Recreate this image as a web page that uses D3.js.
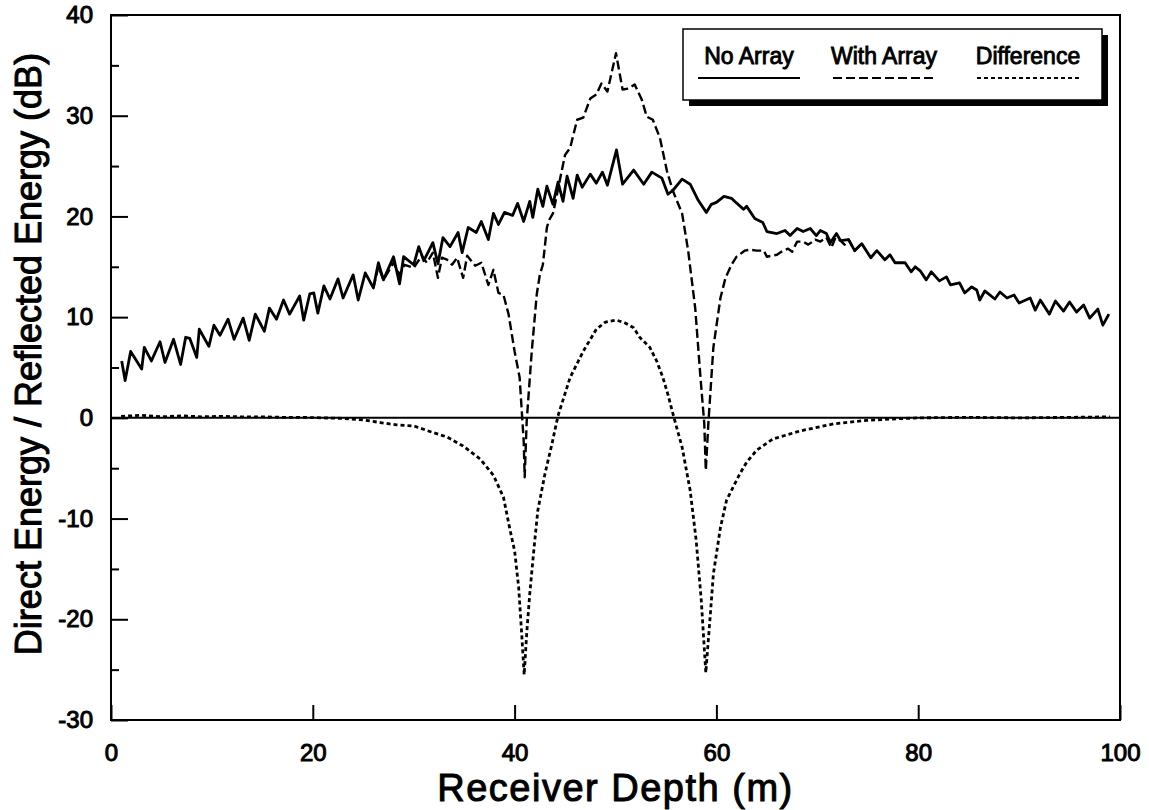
<!DOCTYPE html>
<html>
<head>
<meta charset="utf-8">
<script src="https://cdn.jsdelivr.net/npm/d3@7"></script>
<style>
  body { margin: 0; background: #fff; }
  svg { display: block; font-family: "Liberation Sans", Arial, Helvetica, sans-serif; }
  .axis text { font-size: 24px; fill: #000; stroke: #000; stroke-width: 1px; }
  .axis line, .axis path { stroke: #000; stroke-width: 2px; }
</style>
</head>
<body>
<div id="chart"></div>
<script>
// No Array (solid)
const noArrayDepth = [1.06, 1.4, 1.95, 3.04, 3.3, 4.0, 4.86, 5.35, 6.2, 6.9, 7.4, 7.8, 8.5, 8.75, 9.7, 10.2, 10.8, 11.6, 12.2, 13.1,
  13.7, 14.3, 15.2, 15.7, 16.4, 17.1, 17.7, 18.7, 19.1, 19.7, 20.1, 20.5, 21.1, 21.7, 22.5, 23.0, 24.0, 24.5, 25.2, 26.0,
  26.5, 27.0, 28.0, 28.6, 29.0, 30.0, 30.5, 31.0, 31.9, 32.4, 32.9, 33.6, 34.4, 34.8, 35.4, 36.2, 36.7, 37.4, 37.9, 38.4,
  39.0, 39.8, 40.3, 40.9, 41.5, 41.8, 42.3, 42.8, 43.2, 43.8, 44.3, 44.8, 45.2, 45.8, 46.2, 46.7, 47.5, 48.1, 48.7, 49.2,
  50.1, 50.7, 51.8, 52.8, 53.6, 54.6, 55.2, 55.7, 56.6, 57.4, 58.2, 59.0, 59.5, 60.0, 60.75, 61.5, 61.8, 62.7, 63.0, 63.8,
  64.6, 65.0, 66.0, 66.8, 67.3, 68.0, 68.6, 69.3, 69.9, 70.3, 70.9, 71.3, 71.9, 72.3, 73.1, 73.7, 74.4, 75.3, 75.9, 76.7,
  77.2, 77.7, 78.7, 79.3, 79.7, 80.2, 80.8, 81.3, 82.1, 82.8, 83.2, 84.1, 84.6, 85.3, 85.8, 86.1, 86.6, 87.6, 88.1, 88.8,
  89.5, 90.0, 91.1, 91.6, 92.1, 93.0, 93.6, 94.4, 95.0, 95.7, 96.4, 97.0, 97.8, 98.3, 98.9];
const noArrayDb = [5.65, 3.7, 6.6, 4.85, 7.0, 5.65, 7.56, 5.5, 7.8, 5.3, 8.0, 7.9, 6.0, 8.8, 7.1, 9.2, 8.2, 9.8, 7.8, 9.9,
  7.7, 10.3, 8.6, 10.9, 9.8, 11.7, 10.3, 12.1, 9.7, 12.3, 12.4, 10.4, 13.1, 11.8, 13.8, 11.9, 14.2, 11.7, 14.4, 12.9,
  15.4, 13.7, 16.0, 13.3, 16.0, 15.2, 17.0, 15.6, 17.4, 15.3, 17.9, 17.0, 18.4, 16.4, 18.9, 18.4, 19.5, 17.7, 20.3, 19.2,
  20.4, 20.1, 21.3, 19.5, 21.5, 19.9, 22.7, 21.0, 23.0, 21.2, 23.4, 21.5, 24.0, 21.8, 24.1, 22.9, 24.2, 23.3, 24.4, 23.1,
  26.6, 23.2, 24.6, 23.2, 24.4, 23.8, 22.2, 22.6, 23.7, 23.2, 21.6, 20.4, 21.2, 21.4, 22.0, 21.8, 21.5, 20.7, 21.0, 19.8,
  19.4, 18.5, 18.3, 18.6, 18.1, 18.8, 18.5, 18.8, 18.1, 18.6, 18.3, 17.4, 18.3, 17.6, 17.7, 16.6, 17.3, 15.9, 16.6, 15.7,
  16.2, 15.4, 15.4, 14.5, 15.0, 14.6, 13.7, 14.5, 13.6, 14.0, 13.2, 13.4, 12.4, 13.0, 12.7, 11.7, 12.6, 11.8, 12.5, 11.9,
  12.2, 11.4, 11.9, 10.7, 11.7, 10.3, 11.6, 10.6, 11.5, 10.5, 11.2, 9.9, 10.8, 9.2, 10.3];

// With Array (dashed), drawn where it departs from the solid curve
const withArrayDepth = [26.0, 26.5, 27.0, 28.0, 28.6, 29.1, 30.0, 30.8, 31.3, 31.9, 32.4, 32.8, 33.3, 33.8, 34.3, 34.9, 35.3, 36.1, 36.7, 37.4,
  37.9, 38.4, 38.9, 39.4, 40.0, 40.5, 40.9, 41.0, 41.2, 41.7, 42.2, 42.5, 42.8, 43.2, 43.4, 43.8, 44.0, 44.5, 45.0, 45.5,
  46.2, 46.8, 47.5, 48.1, 48.6, 49.2, 50.05, 50.7, 51.3, 51.9, 52.6, 53.1, 53.7, 54.4, 55.1, 55.7, 56.6, 57.2, 57.9, 58.4,
  58.8, 58.95, 59.2, 59.7, 60.4, 60.9, 61.5, 62.0, 62.8, 63.3, 64.0, 64.7, 65.0, 66.0, 66.6, 67.1, 67.5, 68.0, 68.6, 69.1,
  69.8, 70.3, 70.9, 71.4, 71.8, 72.3, 72.7, 73.1, 73.7, 74.4];
const withArrayDb = [12.9, 15.0, 13.7, 15.4, 14.2, 15.2, 14.9, 16.1, 15.4, 16.4, 13.9, 15.9, 15.7, 15.2, 15.9, 13.9, 16.1, 15.1, 15.4, 13.2,
  14.7, 12.4, 12.2, 10.3, 6.6, 4.0, -2.3, -5.9, -0.3, 6.6, 12.3, 14.2, 15.2, 18.9, 19.6, 20.3, 21.2, 23.7, 26.1, 26.8,
  29.6, 29.8, 31.7, 32.1, 33.2, 32.4, 36.2, 32.6, 32.7, 33.1, 31.6, 29.9, 29.6, 27.8, 24.5, 22.5, 20.3, 16.6, 10.9, 4.3,
  -0.6, -5.2, -0.6, 7.0, 11.9, 13.9, 15.2, 16.0, 16.6, 16.7, 16.6, 16.6, 16.0, 16.2, 16.6, 16.8, 16.5, 17.5, 17.5, 17.2,
  17.7, 17.5, 17.9, 16.9, 17.9, 17.6, 17.2, 17.7, 16.6, 17.3];

// Difference (dotted)
const diffDepth = [1, 3, 5, 7, 9, 11, 13, 15, 17, 19, 21, 23, 25, 26.7, 28.3, 30.0, 31.6, 33.3, 34.9, 36.6,
  37.9, 38.9, 39.5, 40.0, 40.4, 40.7, 40.95, 41.2, 41.5, 41.9, 42.3, 43.0, 43.7, 44.3, 45.5, 46.8, 48.1, 49.0, 50.1, 51.0,
  51.8, 52.4, 53.4, 54.1, 54.7, 55.2, 55.8, 56.6, 57.4, 58.0, 58.5, 58.95, 59.4, 59.7, 60.4, 61.0, 62.3, 63.0, 64.0, 65.6,
  68.3, 71.6, 74.9, 77.8, 80, 85, 90, 95, 99];
const diffDb = [0.15, 0.25, 0.1, 0.2, 0.1, 0.15, 0.1, 0.1, 0.05, 0.05, 0, -0.05, -0.2, -0.47, -0.7, -0.8, -1.35, -1.9, -2.8, -4.1,
  -5.7, -7.9, -10.9, -13.2, -16.8, -21.4, -25.5, -21.4, -17.5, -13.2, -9.2, -5.6, -2.6, 0.2, 4.0, 6.6, 8.8, 9.5, 9.7, 9.4,
  8.95, 8.0, 7.0, 5.6, 4.0, 2.3, 0.0, -2.9, -7.2, -12.2, -18.1, -25.3, -19.5, -15.5, -10.9, -8.2, -5.6, -4.4, -3.2, -2.1,
  -1.3, -0.6, -0.25, -0.1, 0.0, 0.05, 0.0, 0.05, 0.1];

const xTicks = [0, 20, 40, 60, 80, 100];
const yTicks = [-30, -20, -10, 0, 10, 20, 30, 40];
const yMinorTicks = [-25, -15, -5, 5, 15, 25, 35];
const legendLabels = ["No Array", "With Array", "Difference"];

const width = 1149;
const height = 810;
const marginLeft = 111;
const marginRight = 29;
const marginTop = 15;
const marginBottom = 90;

const svg = d3.select("#chart")
  .append("svg")
  .attr("width", width)
  .attr("height", height);

const x = d3.scaleLinear().domain([0, 100]).range([marginLeft, width - marginRight]);
const y = d3.scaleLinear().domain([-30, 40]).range([height - marginBottom, marginTop]);

// plain hyphen minus, as in the original
const fmt = d => String(d);

// axes with inward ticks
svg.append("g")
  .attr("class", "axis")
  .attr("transform", `translate(0,${y(-30)})`)
  .call(d3.axisBottom(x).tickValues(xTicks).tickFormat(fmt).tickSizeInner(-15).tickSizeOuter(0).tickPadding(24))
  .call(g => g.select(".domain").remove())
  .call(g => g.selectAll("text").attr("dy", "0.71em"));

svg.append("g")
  .attr("class", "axis")
  .attr("transform", `translate(${x(0)},0)`)
  .call(d3.axisLeft(y).tickValues(yTicks).tickFormat(fmt).tickSizeInner(-17).tickSizeOuter(0).tickPadding(18))
  .call(g => g.select(".domain").remove());

svg.append("g")
  .attr("class", "axis")
  .attr("transform", `translate(${x(0)},0)`)
  .call(d3.axisLeft(y).tickValues(yMinorTicks).tickSizeInner(-8).tickSizeOuter(0).tickFormat(""))
  .call(g => g.select(".domain").remove());

// frame
svg.append("rect")
  .attr("x", x(0))
  .attr("y", y(40))
  .attr("width", x(100) - x(0))
  .attr("height", y(-30) - y(40))
  .attr("fill", "none")
  .attr("stroke", "#000")
  .attr("stroke-width", 2);

// zero line
svg.append("line")
  .attr("x1", x(0))
  .attr("x2", x(100))
  .attr("y1", y(0))
  .attr("y2", y(0))
  .attr("stroke", "#000")
  .attr("stroke-width", 2);

const line = d3.line()
  .x(d => x(d[0]))
  .y(d => y(d[1]));

const series = [
  { depth: noArrayDepth, db: noArrayDb, dash: null, w: 2.8 },
  { depth: withArrayDepth, db: withArrayDb, dash: "9,4", w: 2.4 },
  { depth: diffDepth, db: diffDb, dash: "4,3", w: 2.8 },
];

svg.append("g")
  .attr("fill", "none")
  .attr("stroke", "#000")
  .attr("stroke-linejoin", "round")
  .selectAll("path")
  .data(series)
  .join("path")
  .attr("stroke-width", d => d.w)
  .attr("stroke-dasharray", d => d.dash)
  .attr("d", d => line(d.depth.map((v, i) => [v, d.db[i]])));

// axis titles
svg.append("text")
  .attr("x", (x(0) + x(100)) / 2)
  .attr("y", 801)
  .attr("text-anchor", "middle")
  .attr("font-size", 38)
  .attr("letter-spacing", 1.5)
  .attr("stroke", "#000")
  .attr("stroke-width", 1)
  .text("Receiver Depth (m)");

svg.append("text")
  .attr("transform", `translate(41,354) rotate(-90)`)
  .attr("text-anchor", "middle")
  .attr("font-size", 36)
  .attr("stroke", "#000")
  .attr("stroke-width", 1)
  .text("Direct Energy / Reflected Energy (dB)");

// legend box with drop shadow
const legend = svg.append("g");
legend.append("rect")
  .attr("x", 689).attr("y", 35).attr("width", 419).attr("height", 71)
  .attr("fill", "#000");
legend.append("rect")
  .attr("x", 683).attr("y", 29).attr("width", 419).attr("height", 71)
  .attr("fill", "#fff")
  .attr("stroke", "#000")
  .attr("stroke-width", 1.5);

const legendX = [749, 884, 1028];
legend.selectAll("text")
  .data(legendLabels)
  .join("text")
  .attr("x", (d, i) => legendX[i])
  .attr("y", 64)
  .attr("text-anchor", "middle")
  .attr("font-size", 23)
  .attr("stroke", "#000")
  .attr("stroke-width", 0.9)
  .text(d => d);

legend.selectAll("line")
  .data(series)
  .join("line")
  .attr("x1", (d, i) => legendX[i] - 51)
  .attr("x2", (d, i) => legendX[i] + 51)
  .attr("y1", 78)
  .attr("y2", 78)
  .attr("stroke", "#000")
  .attr("stroke-width", 2.2)
  .attr("stroke-dasharray", d => d.dash);
</script>
</body>
</html>
